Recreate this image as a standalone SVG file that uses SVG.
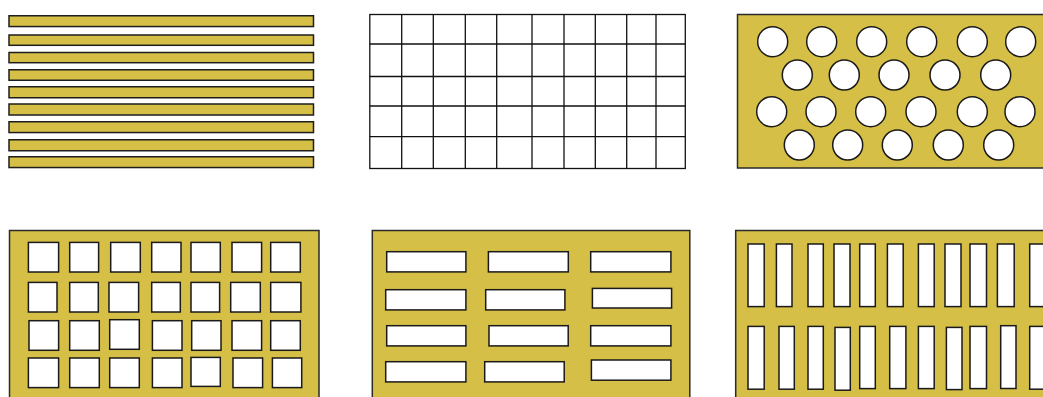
<svg xmlns="http://www.w3.org/2000/svg" width="1043" height="397" viewBox="0 0 1043 397">
<style>
.plate{fill:#D5BF47;stroke:#2a2a2a;stroke-width:1.5}
.hole{fill:#ffffff;stroke:#1a1a1a;stroke-width:1.5}
.bar{fill:#D5BF47;stroke:#1e1e1e;stroke-width:1.5}
.grid{fill:#ffffff;stroke:#111;stroke-width:1.3}
.gl{stroke:#111;stroke-width:1.3;fill:none}
</style>
<rect width="1043" height="397" fill="#ffffff"/>
<g id="panel-strips">
<rect class="bar" x="9" y="15.75" width="304.5" height="10.8"/>
<rect class="bar" x="9" y="35" width="304.5" height="10.3"/>
<rect class="bar" x="9" y="52.5" width="304.5" height="10.2"/>
<rect class="bar" x="9" y="69.75" width="304.5" height="10.5"/>
<rect class="bar" x="9" y="86.75" width="304.5" height="11"/>
<rect class="bar" x="9" y="104" width="304.5" height="11"/>
<rect class="bar" x="9" y="121.75" width="304.5" height="10.8"/>
<rect class="bar" x="9" y="139.75" width="304.5" height="11"/>
<rect class="bar" x="9" y="156.75" width="304.5" height="10.8"/>
</g>
<g id="panel-grid">
<rect class="grid" x="369.8" y="14.5" width="315.5" height="154"/>
<path class="gl" d="M401.7 14.5V168.5M433.3 14.5V168.5M465.3 14.5V168.5M496.7 14.5V168.5M532 14.5V168.5M564 14.5V168.5M595.3 14.5V168.5M626.7 14.5V168.5M656 14.5V168.5M369.8 44H685.3M369.8 76.5H685.3M369.8 106H685.3M369.8 136.7H685.3"/>
</g>
<g id="panel-round-holes">
<rect class="plate" x="737.5" y="14.5" width="320" height="153.5"/>
<circle class="hole" cx="772.7" cy="41.7" r="15"/>
<circle class="hole" cx="821.7" cy="41.7" r="15"/>
<circle class="hole" cx="871.7" cy="41.7" r="15"/>
<circle class="hole" cx="921.7" cy="41.7" r="15"/>
<circle class="hole" cx="972.3" cy="41.7" r="15"/>
<circle class="hole" cx="1020.7" cy="41.7" r="15"/>
<circle class="hole" cx="797.3" cy="75" r="15"/>
<circle class="hole" cx="844.3" cy="75" r="15"/>
<circle class="hole" cx="894" cy="75" r="15"/>
<circle class="hole" cx="945" cy="75" r="15"/>
<circle class="hole" cx="995.7" cy="75" r="15"/>
<circle class="hole" cx="771.7" cy="111.7" r="15"/>
<circle class="hole" cx="821" cy="111.7" r="15"/>
<circle class="hole" cx="870.7" cy="111.7" r="15"/>
<circle class="hole" cx="921" cy="111.7" r="15"/>
<circle class="hole" cx="972.3" cy="111.7" r="15"/>
<circle class="hole" cx="1020" cy="111.7" r="15"/>
<circle class="hole" cx="799.3" cy="145" r="15"/>
<circle class="hole" cx="847.7" cy="145" r="15"/>
<circle class="hole" cx="897.3" cy="145" r="15"/>
<circle class="hole" cx="948.3" cy="145" r="15"/>
<circle class="hole" cx="998.7" cy="145" r="15"/>
</g>
<g id="panel-square-holes">
<rect class="plate" x="9.5" y="230.5" width="309.5" height="175"/>
<rect class="hole" x="28.4" y="242.4" width="30.2" height="29.6"/>
<rect class="hole" x="69.7" y="242.4" width="28.9" height="29.6"/>
<rect class="hole" x="110.7" y="242.4" width="29.6" height="29.6"/>
<rect class="hole" x="151.7" y="242.4" width="29.3" height="29.6"/>
<rect class="hole" x="191" y="242.4" width="29.3" height="29.6"/>
<rect class="hole" x="232" y="242.4" width="29.6" height="29.6"/>
<rect class="hole" x="270.7" y="242.4" width="29.6" height="29.6"/>
<rect class="hole" x="28.4" y="282.4" width="28.6" height="29.6"/>
<rect class="hole" x="69.7" y="282.4" width="28.6" height="29.6"/>
<rect class="hole" x="109" y="282.4" width="29.6" height="29.6"/>
<rect class="hole" x="151.7" y="282.4" width="28.6" height="29.6"/>
<rect class="hole" x="191" y="282.4" width="28.6" height="29.6"/>
<rect class="hole" x="230.7" y="282.4" width="29.6" height="29.6"/>
<rect class="hole" x="270.7" y="282.4" width="30.2" height="29.6"/>
<rect class="hole" x="29" y="320.7" width="29.6" height="29.6"/>
<rect class="hole" x="69.7" y="320.7" width="29.6" height="29.6"/>
<rect class="hole" x="109.7" y="319.7" width="29.6" height="29.6"/>
<rect class="hole" x="152.4" y="320.7" width="29.6" height="29.6"/>
<rect class="hole" x="191.7" y="320.7" width="29.3" height="29.6"/>
<rect class="hole" x="232" y="320.7" width="29.6" height="29.6"/>
<rect class="hole" x="270.7" y="320.7" width="29.6" height="29.6"/>
<rect class="hole" x="28.4" y="358" width="30.2" height="29.6"/>
<rect class="hole" x="69.7" y="358" width="29.6" height="29.6"/>
<rect class="hole" x="109.7" y="358" width="29.6" height="29.6"/>
<rect class="hole" x="152.4" y="358" width="29.6" height="29.6"/>
<rect class="hole" x="191" y="357.4" width="29.3" height="29"/>
<rect class="hole" x="233" y="358" width="29.6" height="29.6"/>
<rect class="hole" x="272.4" y="358" width="29.3" height="29.6"/>
</g>
<g id="panel-slot-holes">
<rect class="plate" x="372.3" y="230.5" width="317.5" height="175"/>
<rect class="hole" x="386.7" y="251.7" width="79.2" height="20.2"/>
<rect class="hole" x="488.4" y="251.7" width="79.9" height="20.2"/>
<rect class="hole" x="590.7" y="251.7" width="80.2" height="20.2"/>
<rect class="hole" x="385.7" y="289.7" width="80.2" height="20.2"/>
<rect class="hole" x="485.7" y="289.7" width="79.2" height="20.2"/>
<rect class="hole" x="592.4" y="288.4" width="79.2" height="19.6"/>
<rect class="hole" x="386.7" y="325.7" width="79.2" height="20.2"/>
<rect class="hole" x="489" y="325.7" width="79.2" height="20.2"/>
<rect class="hole" x="590.7" y="325.7" width="80.2" height="20.2"/>
<rect class="hole" x="385.7" y="361.7" width="80.2" height="20.2"/>
<rect class="hole" x="484.7" y="361.7" width="79.5" height="20.2"/>
<rect class="hole" x="591.4" y="360" width="79.5" height="20.2"/>
</g>
<g id="panel-vertical-slots">
<rect class="plate" x="735.7" y="230.5" width="320" height="175"/>
<rect class="hole" x="748" y="244" width="16.2" height="62.6"/>
<rect class="hole" x="776.4" y="244" width="15.6" height="62.6"/>
<rect class="hole" x="808" y="244" width="15.3" height="62.6"/>
<rect class="hole" x="834" y="244" width="16" height="62.6"/>
<rect class="hole" x="859.7" y="244" width="15.6" height="62.6"/>
<rect class="hole" x="887.4" y="244" width="15.8" height="62.6"/>
<rect class="hole" x="918.4" y="244" width="15.8" height="62.6"/>
<rect class="hole" x="945" y="244" width="16" height="62.6"/>
<rect class="hole" x="970" y="244" width="16.5" height="62.6"/>
<rect class="hole" x="997.4" y="244" width="16.8" height="62.6"/>
<rect class="hole" x="1029.7" y="244" width="20" height="62.6"/>
<rect class="hole" x="748" y="326.4" width="16.2" height="62.8"/>
<rect class="hole" x="779" y="326.4" width="15.3" height="62.8"/>
<rect class="hole" x="808" y="326.4" width="15.3" height="62.8"/>
<rect class="hole" x="835" y="327.4" width="15.3" height="62.8"/>
<rect class="hole" x="859.7" y="326.4" width="15.6" height="62.2"/>
<rect class="hole" x="889.7" y="326.4" width="16.2" height="62.2"/>
<rect class="hole" x="918.4" y="326.4" width="15.8" height="62.2"/>
<rect class="hole" x="946.4" y="327.4" width="15.6" height="62.2"/>
<rect class="hole" x="970" y="326.4" width="16.5" height="62.2"/>
<rect class="hole" x="1000.7" y="325.7" width="15.3" height="62.8"/>
<rect class="hole" x="1029.7" y="326.4" width="20" height="62.8"/>
</g>
</svg>
